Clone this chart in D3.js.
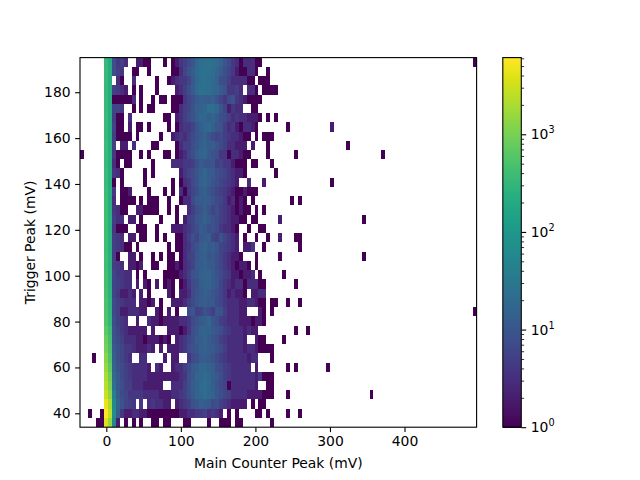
<!DOCTYPE html>
<html>
<head>
<meta charset="utf-8">
<script src="https://cdn.jsdelivr.net/npm/d3@7"></script>
<style>
  html, body { margin: 0; padding: 0; background: #fff; }
  svg { display: block; }
  text { font-family: "DejaVu Sans", sans-serif; font-size: 13.9px; fill: #000; }
</style>
</head>
<body>
<svg id="chart" width="640" height="480"></svg>
<script>
// Two-dimensional histogram of trigger peak against main counter peak.
const xLimits = [-35.3, 496.7];
const yLimits = [33.94, 195.1];
const colorLimits = [1, 6100];
const xTicks = [0, 100, 200, 300, 400];
const yTicks = [40, 60, 80, 100, 120, 140, 160, 180];
const colorMajorTicks = [1, 10, 100, 1000];
const colorMinorTicks = [2,3,4,5,6,7,8,9,20,30,40,50,60,70,80,90,200,300,400,500,600,700,800,900,2000,3000,4000,5000,6000];
const xBinCount = 100;
const yBinCount = 40;

// Counts in the pedestal columns, one per trigger bin, highest trigger first.
const pedestalColumn6 = [340,350,360,340,360,350,370,350,360,380,370,360,380,370,380,390,400,390,400,410,400,420,410,430,440,470,500,520,560,700,850,1000,1250,1600,2000,2400,3000,4500,5800,4000];
const pedestalColumn7 = [210,220,210,220,230,220,230,220,230,220,240,230,240,230,240,230,240,250,240,250,250,260,250,260,270,270,290,300,330,400,450,500,560,700,900,1100,1400,2000,2600,1500];

// Counts for bins 8 to 47 along the main counter axis, highest trigger first.
const countRows = [
  [8,4,5,3,0,0,2,2,1,1,0,0,0,1,0,1, 2,4,5,7,10,17,22,25,26,23,20,16,10,7,4,3, 1,3,3,3,1,1,0,0],
  [8,5,4,0,0,1,1,0,0,1,0,0,0,0,0,1, 1,3,6,9,13,19,24,27,25,21,17,12,8,6,4,2, 1,1,3,3,1,0,0,1],
  [0,3,1,0,0,3,0,0,0,0,0,1,0,0,1,2, 3,4,4,6,11,18,23,26,21,20,15,8,7,5,3,3, 3,3,1,1,0,1,1,1],
  [5,4,3,2,0,1,0,1,0,0,0,1,0,0,0,0, 2,3,5,8,12,20,25,24,23,19,17,12,9,4,4,5, 3,0,3,3,1,0,1,1],
  [1,1,1,1,1,3,0,1,0,0,1,0,1,1,0,1, 1,1,4,6,8,11,14,13,12,14,9,6,4,7,9,4, 3,2,1,1,1,1,0,0],
  [6,6,4,0,0,1,0,1,0,1,1,0,0,0,0,1, 1,3,5,6,9,14,15,18,24,21,17,10,6,2,4,3, 3,0,0,1,1,0,0,0],
  [5,1,1,0,3,0,0,0,0,0,0,0,0,1,1,0, 2,3,5,7,9,13,18,17,13,16,12,8,7,5,3,4, 3,3,2,2,2,1,0,1],
  [6,1,1,0,2,0,1,1,0,1,0,0,0,0,1,0, 1,3,4,4,6,10,14,17,19,14,10,9,5,3,4,2, 1,3,3,2,1,0,0,0],
  [5,1,1,1,1,0,1,0,0,0,0,0,1,0,0,2, 3,4,3,5,7,10,12,15,10,7,6,7,5,4,3,3, 2,1,1,0,1,0,1,1],
  [5,0,2,2,0,3,0,0,0,0,1,1,0,0,0,0, 1,3,5,5,8,10,14,16,12,13,9,7,5,3,3,2, 2,2,0,2,0,0,0,1],
  [4,1,1,1,1,0,0,1,0,1,0,0,0,1,1,0, 1,2,3,6,8,12,16,18,11,9,8,4,4,1,3,3, 2,1,1,0,0,0,0,1],
  [3,1,0,1,1,0,0,0,0,0,1,0,0,0,0,3, 3,3,4,4,5,8,12,10,9,10,5,6,4,4,2,1, 1,1,0,1,1,0,0,0],
  [4,3,1,0,0,0,0,0,1,0,1,0,0,0,0,0, 0,2,4,6,7,10,14,18,12,12,8,7,6,4,3,2, 2,1,0,0,0,0,0,0],
  [1,0,1,0,0,0,0,0,1,0,0,0,0,0,0,1, 0,1,3,4,7,9,15,16,13,10,8,6,5,4,3,2, 0,0,3,0,0,0,2,0],
  [4,0,1,1,2,0,0,0,0,1,0,0,0,1,0,1, 0,3,1,4,6,8,12,14,10,8,6,5,4,3,2,1, 1,2,1,1,1,0,0,0],
  [3,0,1,1,1,1,0,1,0,1,1,1,0,0,1,0, 0,1,3,3,7,11,12,13,12,9,7,6,4,2,3,1, 2,1,0,1,0,0,0,0],
  [4,3,1,1,0,0,2,2,1,1,1,1,0,0,1,0, 1,0,0,3,5,8,10,13,9,6,8,5,4,3,2,1, 2,1,1,0,1,0,1,0],
  [5,3,3,0,2,2,0,1,0,0,0,0,1,0,0,0, 1,0,2,5,6,10,11,15,11,9,7,5,4,3,2,2, 1,1,0,1,1,0,0,0],
  [4,1,1,1,0,0,1,1,1,0,0,1,0,0,0,2, 2,2,3,4,6,8,12,11,8,9,7,4,3,3,2,1, 0,0,1,0,0,1,1,0],
  [5,4,3,0,2,2,0,1,1,0,0,1,0,1,0,0, 1,1,3,5,8,6,11,12,13,6,5,9,6,4,3,2, 0,1,0,0,1,0,0,1],
  [5,4,3,1,1,0,1,0,0,0,0,0,0,0,1,0, 1,1,3,4,7,9,13,15,11,13,10,6,5,4,3,2, 0,2,2,4,0,0,1,0],
  [5,1,0,0,2,2,0,1,0,0,1,0,1,0,1,1, 0,1,3,5,6,10,13,14,10,11,8,6,4,3,2,2, 1,0,0,0,1,0,0,0],
  [5,4,3,0,2,2,1,2,0,0,1,1,0,0,1,1, 2,1,3,4,6,11,12,15,12,11,8,6,4,3,2,1, 2,2,1,0,1,0,0,0],
  [6,4,4,3,3,0,1,0,1,0,0,0,0,1,1,1, 1,2,3,5,9,10,14,15,16,12,9,7,5,4,2,2, 1,2,2,3,0,1,0,0],
  [6,5,4,3,3,0,2,0,2,1,0,2,0,1,2,1, 0,1,2,4,7,8,13,15,16,12,10,6,4,3,2,3, 3,1,3,3,3,1,1,0],
  [6,4,2,2,3,2,0,2,0,1,0,0,0,0,2,1, 0,2,2,3,7,9,11,14,12,10,8,6,4,2,3,2, 2,1,0,2,2,3,3,0],
  [7,5,4,3,3,3,0,2,2,1,2,0,1,0,0,2, 2,2,3,5,7,10,12,13,11,11,7,6,4,3,3,3, 2,2,3,3,2,1,1,0],
  [7,5,2,2,3,3,3,2,2,0,0,2,1,0,2,0, 1,0,0,8,10,5,6,9,7,5,10,9,5,3,3,3, 2,2,0,0,0,2,1,0],
  [8,5,4,3,0,0,2,0,0,3,2,2,1,2,2,2, 2,3,3,4,7,9,11,13,18,10,8,5,4,3,3,3, 2,2,2,1,2,2,1,0],
  [9,6,4,3,2,2,2,2,2,0,2,0,0,0,2,2, 2,1,2,4,8,10,15,15,14,12,10,8,5,4,3,3, 3,2,3,2,2,0,0,0],
  [9,7,5,3,3,3,2,2,1,2,2,2,1,2,1,0, 2,3,4,6,8,12,13,16,12,10,8,5,4,3,3,3, 3,2,0,0,2,1,1,0],
  [12,8,6,4,4,3,2,2,2,3,2,0,2,0,2,2, 2,3,4,7,9,10,14,15,12,11,9,7,5,3,3,3, 3,2,3,3,2,1,1,1],
  [14,8,6,4,3,0,0,3,3,0,0,0,0,2,0,2, 2,0,0,4,7,8,12,13,11,9,7,5,4,3,3,3, 3,3,2,3,3,0,0,0],
  [16,9,7,5,4,3,3,3,3,2,0,3,2,0,0,2, 3,3,5,7,11,13,17,18,14,13,8,7,5,4,3,3, 3,3,3,0,2,0,0,0],
  [20,11,7,5,4,3,3,3,3,2,2,2,2,2,2,2, 2,3,4,8,11,16,18,22,17,13,11,8,5,4,3,3, 3,3,3,3,2,4,1,1],
  [26,11,8,5,5,3,3,3,2,2,2,2,2,0,0,3, 3,3,5,8,13,15,20,21,19,13,10,7,6,1,3,3, 3,3,3,3,2,0,0,1],
  [45,13,7,6,4,4,4,4,3,3,3,3,2,2,2,3, 3,4,5,8,11,16,18,22,18,15,10,8,6,5,3,3, 3,3,2,2,2,2,1,1],
  [60,15,9,6,5,4,0,4,0,3,4,3,3,2,2,0, 2,3,4,5,9,10,14,12,11,7,8,5,4,3,2,2, 2,2,0,1,0,1,1,0],
  [70,13,4,2,2,3,3,2,2,1,1,1,1,1,1,1, 1,2,2,3,3,4,4,5,3,4,3,2,0,1,0,1, 0,0,0,0,1,1,0,1],
  [55,2,0,1,0,1,0,1,0,0,1,1,0,1,1,0, 0,0,1,1,0,0,0,0,1,0,0,1,1,1,0,1, 1,0,0,0,0,0,0,0]
];

// Isolated bins outside the main block: [main counter bin, trigger bin from the top, count].
const strayBins = [
  [99,0,1],[48,3,1],[49,3,1],[49,6,1],[52,7,1],[63,7,2],[48,8,1],[67,9,1],[54,10,1],[76,10,1],
  [0,10,1],[48,11,1],[49,12,1],[63,13,1],[53,15,1],[55,15,1],[50,17,2],[71,17,1],[50,19,2],
  [54,19,1],[55,19,1],[55,20,1],[50,21,1],[71,21,1],[51,23,1],[54,24,1],[48,26,1],[49,26,1],
  [52,26,1],[55,26,1],[48,27,1],[99,27,1],[54,29,1],[57,29,1],[51,30,1],[48,31,1],[48,32,1],
  [3,32,1],[52,33,1],[54,33,1],[62,33,1],[48,34,1],[48,35,1],[48,36,1],[52,36,1],[73,36,1],
  [2,38,1],[5,38,1],[52,38,1],[55,38,1],[4,39,1],[5,39,1],[48,39,1]
];

const plot = { left: 80, right: 476.6, top: 57.6, bottom: 427.2 };
const bar = { left: 502.8, right: 521.3 };

const svg = d3.select("#chart");
const x = d3.scaleLinear().domain(xLimits).range([plot.left, plot.right]);
const y = d3.scaleLinear().domain(yLimits).range([plot.bottom, plot.top]);
const colorPosition = d3.scaleLog().domain(colorLimits).range([0, 1]);
const colorOf = v => d3.interpolateViridis(colorPosition(v));

const xBinWidth = (xLimits[1] - xLimits[0]) / xBinCount;
const yBinHeight = (yLimits[1] - yLimits[0]) / yBinCount;

// Flatten every source into one list of occupied bins.
const cells = [];
pedestalColumn6.forEach((v, row) => cells.push({ col: 6, row, v }));
pedestalColumn7.forEach((v, row) => cells.push({ col: 7, row, v }));
countRows.forEach((values, row) => values.forEach((v, i) => { if (v > 0) cells.push({ col: i + 8, row, v }); }));
strayBins.forEach(([col, row, v]) => cells.push({ col, row, v }));

svg.append("g")
  .attr("shape-rendering", "crispEdges")
  .selectAll("rect")
  .data(cells)
  .join("rect")
  .attr("x", d => x(xLimits[0] + d.col * xBinWidth))
  .attr("width", d => x(xLimits[0] + (d.col + 1) * xBinWidth) - x(xLimits[0] + d.col * xBinWidth))
  .attr("y", d => y(yLimits[1] - d.row * yBinHeight))
  .attr("height", d => y(yLimits[1] - (d.row + 1) * yBinHeight) - y(yLimits[1] - d.row * yBinHeight))
  .attr("fill", d => colorOf(d.v));

// Main axes and frame.
const xAxis = svg.append("g")
  .attr("transform", `translate(0,${plot.bottom})`)
  .call(d3.axisBottom(x).tickValues(xTicks).tickSize(4.9).tickPadding(4.5));
const yAxis = svg.append("g")
  .attr("transform", `translate(${plot.left},0)`)
  .call(d3.axisLeft(y).tickValues(yTicks).tickSize(4.9).tickPadding(4.5));
[xAxis, yAxis].forEach(a => {
  a.select(".domain").remove();
  a.selectAll("line").attr("stroke", "#000").attr("stroke-width", 1.1);
  a.selectAll("text").style("font-size", "13.9px").style("font-family", '"DejaVu Sans"');
});
svg.append("rect")
  .attr("x", plot.left).attr("y", plot.top)
  .attr("width", plot.right - plot.left).attr("height", plot.bottom - plot.top)
  .attr("fill", "none").attr("stroke", "#000").attr("stroke-width", 1.1);

svg.append("text")
  .attr("x", (plot.left + plot.right) / 2).attr("y", 468)
  .attr("text-anchor", "middle")
  .text("Main Counter Peak (mV)");
svg.append("text")
  .attr("transform", `translate(35,${(plot.top + plot.bottom) / 2}) rotate(-90)`)
  .attr("text-anchor", "middle")
  .text("Trigger Peak (mV)");

// Colour bar on a logarithmic scale.
const barY = d3.scaleLog().domain(colorLimits).range([plot.bottom, plot.top]);
const barSteps = d3.range(0, 256);
svg.append("g")
  .attr("shape-rendering", "crispEdges")
  .selectAll("rect")
  .data(barSteps)
  .join("rect")
  .attr("x", bar.left)
  .attr("width", bar.right - bar.left)
  .attr("y", i => plot.bottom - (i + 1) / 256 * (plot.bottom - plot.top))
  .attr("height", (plot.bottom - plot.top) / 256 + 0.6)
  .attr("fill", i => d3.interpolateViridis((i + 0.5) / 256));
svg.append("rect")
  .attr("x", bar.left).attr("y", plot.top)
  .attr("width", bar.right - bar.left).attr("height", plot.bottom - plot.top)
  .attr("fill", "none").attr("stroke", "#000").attr("stroke-width", 1.1);

const barAxis = svg.append("g").attr("transform", `translate(${bar.right},0)`);
barAxis.call(d3.axisRight(barY).tickValues(colorMajorTicks).tickSize(4.9).tickFormat(""));
const barMinor = svg.append("g").attr("transform", `translate(${bar.right},0)`);
barMinor.call(d3.axisRight(barY).tickValues(colorMinorTicks).tickSize(2.8).tickFormat(""));
[barAxis, barMinor].forEach(a => {
  a.select(".domain").remove();
  a.selectAll("line").attr("stroke", "#000").attr("stroke-width", 0.8);
});
barAxis.selectAll("line").attr("stroke-width", 1.1);

const barLabels = svg.append("g").selectAll("text")
  .data(colorMajorTicks)
  .join("text")
  .attr("x", bar.right + 9.4)
  .attr("y", d => barY(d) + 5);
barLabels.append("tspan").text("10");
barLabels.append("tspan")
  .attr("dy", -5.8)
  .style("font-size", "9.7px")
  .text(d => Math.round(Math.log10(d)));
</script>
</body>
</html>
